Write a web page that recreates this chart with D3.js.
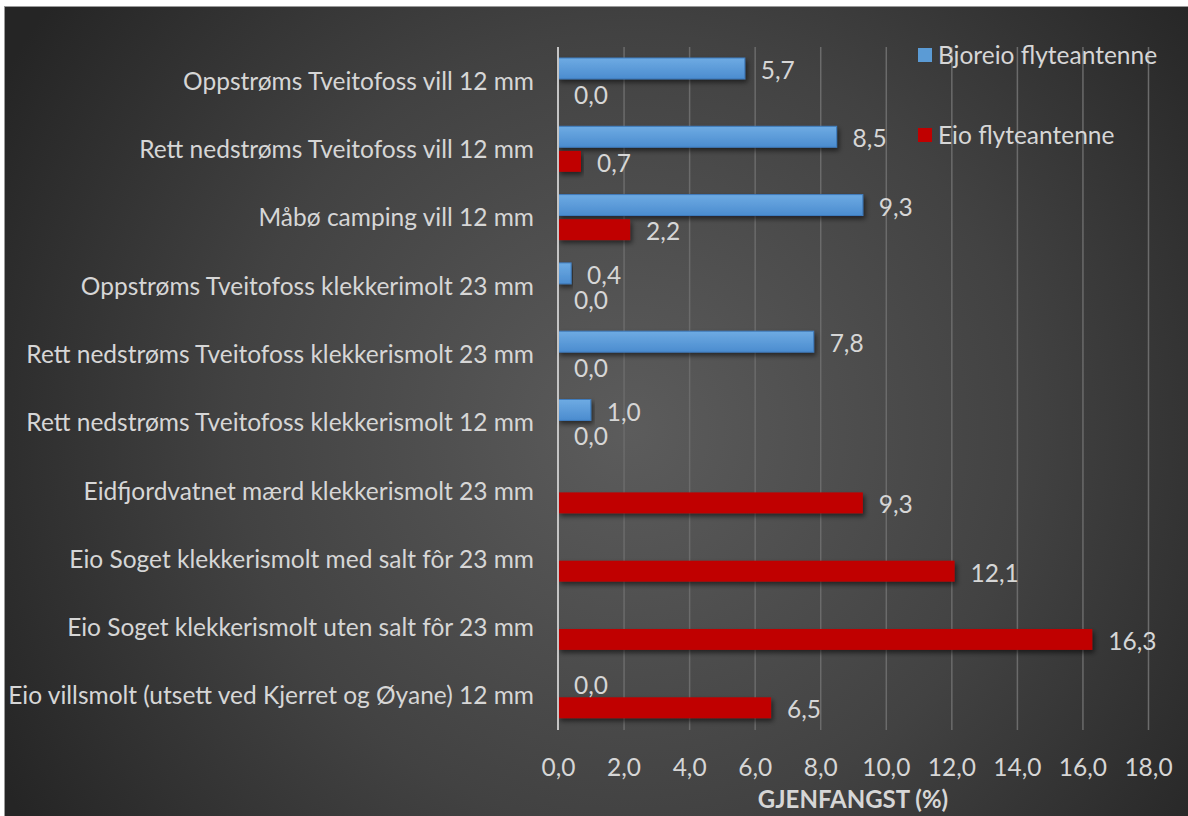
<!DOCTYPE html>
<html>
<head>
<meta charset="utf-8">
<script src="https://cdn.jsdelivr.net/npm/d3@7"></script>
<style>
  html, body { margin: 0; padding: 0; background: #ffffff; }
  svg { display: block; }
  text { font-family: Lato, "Liberation Sans", sans-serif; }
</style>
</head>
<body>
<svg id="chart" width="1188" height="816"></svg>
<script>
// Recapture rate per release group, by receiver antenna
const categories = [
  "Oppstrøms Tveitofoss vill 12 mm",
  "Rett nedstrøms Tveitofoss vill 12 mm",
  "Måbø camping vill 12 mm",
  "Oppstrøms Tveitofoss klekkerimolt 23 mm",
  "Rett nedstrøms Tveitofoss klekkerismolt 23 mm",
  "Rett nedstrøms Tveitofoss klekkerismolt 12 mm",
  "Eidfjordvatnet mærd klekkerismolt 23 mm",
  "Eio Soget klekkerismolt med salt fôr 23 mm",
  "Eio Soget klekkerismolt uten salt fôr 23 mm",
  "Eio villsmolt (utsett ved Kjerret og Øyane) 12 mm"
];
const seriesNames = ["Bjoreio flyteantenne", "Eio flyteantenne"];
const bjoreio = [5.7, 8.5, 9.3, 0.4, 7.8, 1.0, null, null, null, 0.0];
const eio     = [0.0, 0.7, 2.2, 0.0, 0.0, 0.0, 9.3, 12.1, 16.3, 6.5];
const xTicks = [0, 2, 4, 6, 8, 10, 12, 14, 16, 18];
const axisTitle = "GJENFANGST (%)";

const svg = d3.select("#chart");
const W = 1188, H = 816;
const FS = 24.5;        // main text size
const TXT = "#d6d6d6";

// comma as decimal separator
const locale = d3.formatLocale({ decimal: ",", thousands: " ", grouping: [3], currency: ["", " kr"] });
const fmt = locale.format(".1f");

const defs = svg.append("defs");
const bg = defs.append("radialGradient").attr("id", "bg")
  .attr("gradientUnits", "userSpaceOnUse")
  .attr("cx", 630).attr("cy", 430).attr("r", 720);
bg.append("stop").attr("offset", "0%").attr("stop-color", "#5c5c5c");
bg.append("stop").attr("offset", "55%").attr("stop-color", "#424242");
bg.append("stop").attr("offset", "100%").attr("stop-color", "#252525");

const blueGrad = defs.append("linearGradient").attr("id", "blueGrad")
  .attr("x1", 0).attr("y1", 0).attr("x2", 0).attr("y2", 1);
blueGrad.append("stop").attr("offset", "0%").attr("stop-color", "#6eabe3");
blueGrad.append("stop").attr("offset", "100%").attr("stop-color", "#4b8ccf");

const shadow = defs.append("filter").attr("id", "shadow")
  .attr("x", "-5%").attr("y", "-30%").attr("width", "115%").attr("height", "180%");
shadow.append("feDropShadow").attr("dx", 2).attr("dy", 3).attr("stdDeviation", 2.5)
  .attr("flood-color", "#000").attr("flood-opacity", 0.55);

// chart panel
svg.append("rect").attr("x", 4.5).attr("y", 6.5).attr("width", W).attr("height", H)
  .attr("fill", "url(#bg)").attr("stroke", "#9a9a9a").attr("stroke-width", 1);

const x = d3.scaleLinear().domain([0, 18]).range([558, 1148]);
const y0 = d3.scaleBand().domain(categories).range([47, 730]);
const y1 = d3.scaleBand().domain(seriesNames).range([11, 56.5]).paddingInner(0.15);
const colors = d3.scaleOrdinal().domain(seriesNames).range(["url(#blueGrad)", "#c00000"]);
const swatch = d3.scaleOrdinal().domain(seriesNames).range(["#5b9bd5", "#c00000"]);

// vertical gridlines
const grid = svg.append("g").attr("transform", "translate(0,730)")
  .call(d3.axisBottom(x).tickValues(xTicks.filter(d => d > 0)).tickSize(-683).tickFormat(""));
grid.select(".domain").remove();
grid.selectAll("line").attr("stroke", "#6b6b6b").attr("stroke-width", 1.5);

// tick labels
const xa = svg.append("g").attr("transform", "translate(0,756)")
  .call(d3.axisBottom(x).tickValues(xTicks).tickSize(0).tickFormat(fmt));
xa.select(".domain").remove();
xa.selectAll("text").attr("fill", TXT).attr("font-size", FS)
  .attr("font-family", "Lato, sans-serif");

svg.append("text").attr("x", 853).attr("y", 808).attr("text-anchor", "middle")
  .attr("fill", TXT).attr("font-size", FS - 0.5).attr("font-weight", "bold")
  .text(axisTitle);

// category labels
const ya = svg.append("g").attr("transform", "translate(534,0)")
  .call(d3.axisLeft(y0).tickSize(0).tickPadding(0));
ya.select(".domain").remove();
ya.selectAll("text").attr("fill", TXT).attr("font-size", FS)
  .attr("font-family", "Lato, sans-serif").attr("dy", "0.35em");

// bars
const rows = categories.map((c, i) => ({
  cat: c,
  vals: [{ s: seriesNames[0], v: bjoreio[i] }, { s: seriesNames[1], v: eio[i] }]
}));

const groups = svg.append("g").selectAll("g").data(rows).join("g")
  .attr("transform", d => `translate(0,${y0(d.cat)})`);

groups.selectAll("rect").data(d => d.vals.filter(e => e.v !== null && e.v > 0)).join("rect")
  .attr("x", x(0))
  .attr("y", d => y1(d.s))
  .attr("width", d => x(d.v) - x(0))
  .attr("height", y1.bandwidth())
  .attr("fill", d => colors(d.s))
  .attr("stroke", d => d.s === seriesNames[0] ? "#3f7dbf" : "none")
  .attr("stroke-width", 1)
  .attr("filter", "url(#shadow)");

groups.selectAll("text").data(d => d.vals.filter(e => e.v !== null)).join("text")
  .attr("x", d => x(d.v) + 16)
  .attr("y", d => y1(d.s) + y1.bandwidth() / 2 + 2)
  .attr("dy", "0.35em")
  .attr("fill", TXT).attr("font-size", FS)
  .text(d => fmt(d.v));

// zero line
svg.append("line").attr("x1", x(0)).attr("x2", x(0)).attr("y1", 47).attr("y2", 730)
  .attr("stroke", "#c4c4c4").attr("stroke-width", 2);

// legend
const legY = d3.scalePoint().domain(seriesNames).range([55, 135]);
const leg = svg.append("g").selectAll("g").data(seriesNames).join("g")
  .attr("transform", d => `translate(918,${legY(d)})`);
leg.append("rect").attr("x", 0).attr("y", -7).attr("width", 14).attr("height", 14)
  .attr("fill", d => swatch(d));
leg.append("text").attr("x", 20).attr("dy", "0.35em")
  .attr("fill", TXT).attr("font-size", FS).text(d => d);
</script>
</body>
</html>
